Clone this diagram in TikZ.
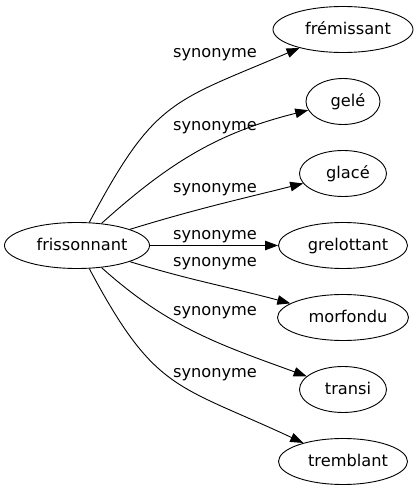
\documentclass[tikz,border=0pt]{standalone}
\usepackage{fontspec}
\setmainfont{DejaVu Sans}
\usetikzlibrary{arrows.meta, shapes.geometric}

\tikzset{
	word/.style = {ellipse, draw = black, line width = .9pt, inner sep = 0pt,
		minimum height = 46pt, text height = 13pt, text depth = 3pt,
		execute at begin node = \hspace*{10pt}},
	rel/.style = {anchor = base, inner sep = 0pt},
	synline/.style = {-{Triangle[length = 13pt, width = 9.5pt]}, line width = .9pt}
}

\begin{document}
\begin{tikzpicture}[x = 1pt, y = 1pt, font = \fontsize{16.2}{19}\selectfont]
	\useasboundingbox (0, 0) rectangle (418, 491);

	% 中心词
	\node [word, minimum width = 145pt] (fri) at (77, 245.5) {frissonnant};

	% 同义词
	\node [word, minimum width = 140pt] (frem) at (343, 461.5) {frémissant};
	\node [word, minimum width = 74pt] (gele) at (343, 389.5) {gelé};
	\node [word, minimum width = 87pt] (glace) at (343, 317.5) {glacé};
	\node [word, minimum width = 129pt] (grel) at (343, 245.5) {grelottant};
	\node [word, minimum width = 131pt] (morf) at (343, 173.5) {morfondu};
	\node [word, minimum width = 87pt] (transi) at (343, 101.5) {transi};
	\node [word, minimum width = 129pt] (tremb) at (343, 29.5) {tremblant};

	% 连线
	\draw [synline] (fri) to [out = 62, in = 203, looseness = 1.3] (frem);
	\draw [synline] (fri) to [out = 42, in = 194] (gele);
	\draw [synline] (fri) to [out = 17, in = 194] (glace);
	\draw [synline] (fri) -- (grel);
	\draw [synline] (fri) to [out = -17, in = 165] (morf);
	\draw [synline] (fri) to [out = -42, in = 160] (transi);
	\draw [synline] (fri) to [out = -62, in = 155, looseness = 1.3] (tremb);

	% 标签
	\node [rel] (l1) at (215, 433.7) {synonyme};
	\node [rel] (l2) at (215, 360.3) {synonyme};
	\node [rel] (l3) at (215, 298.3) {synonyme};
	\node [rel] (l4) at (215, 251.7) {synonyme};
	\node [rel] (l5) at (215, 224.3) {synonyme};
	\node [rel] (l6) at (215, 175.7) {synonyme};
	\node [rel] (l7) at (215, 113.3) {synonyme};
\end{tikzpicture}
\end{document}
